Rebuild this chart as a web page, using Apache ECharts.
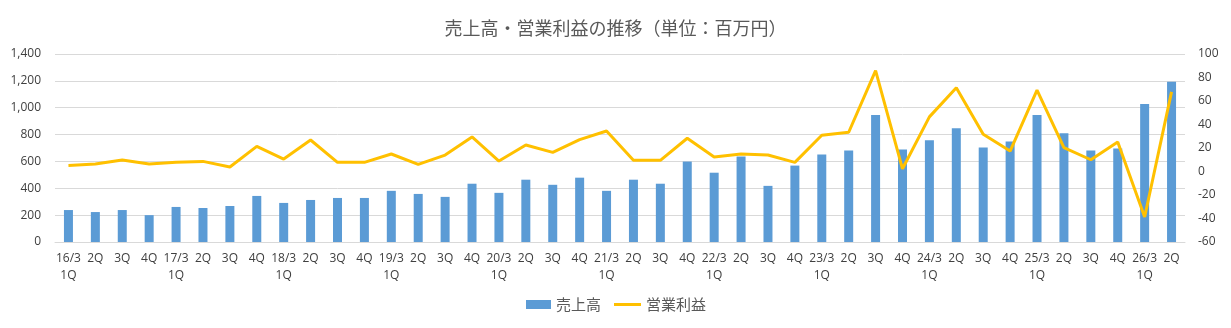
<!DOCTYPE html>
<html><head><meta charset="utf-8">
<script src="https://cdn.jsdelivr.net/npm/echarts@6/dist/echarts.min.js"></script>
<style>html,body{margin:0;padding:0;background:#fff}#c{width:1231px;height:328px}</style>
</head><body><div id="c"></div>
<script>
const categories = [
 '16/3\n1Q','2Q','3Q','4Q','17/3\n1Q','2Q','3Q','4Q','18/3\n1Q','2Q','3Q','4Q',
 '19/3\n1Q','2Q','3Q','4Q','20/3\n1Q','2Q','3Q','4Q','21/3\n1Q','2Q','3Q','4Q',
 '22/3\n1Q','2Q','3Q','4Q','23/3\n1Q','2Q','3Q','4Q','24/3\n1Q','2Q','3Q','4Q',
 '25/3\n1Q','2Q','3Q','4Q','26/3\n1Q','2Q'];
const sales = [238,223,238,200,261,253,268,343,291,313,328,328,
 381,358,336,434,366,464,426,479,381,464,434,599,
 516,637,418,569,652,682,945,689,757,847,704,749,
 945,809,682,697,1027,1193];
const profit = [5.2,6.3,9.7,6.3,7.8,8.6,3.8,21.4,10.6,26.8,7.8,7.8,
 14.9,6.0,14.0,29.4,8.9,22.6,16.3,27.1,34.5,9.5,9.5,28.3,
 12.3,14.9,14.0,7.8,30.8,33.4,85.8,2.3,46.5,71.2,31.7,17.4,
 69.3,20.3,10.0,25.1,-38.7,67.8];
const seriesNames = ['売上高','営業利益'];
const titleText = '売上高・営業利益の推移（単位：百万円）';

const font = "'Open Sans','Noto Sans CJK JP',sans-serif";
const jp = "'Noto Sans CJK JP',sans-serif";
const chart = echarts.init(document.getElementById('c'));
chart.setOption({
  animation:false,
  textStyle:{fontFamily:font},
  title:{text:titleText,left:'center',top:14,textStyle:{fontSize:18,fontWeight:'normal',color:'#595959',fontFamily:jp}},
  legend:[
    {left:521,top:292,itemWidth:25,itemHeight:9,itemGap:4,
      textStyle:{fontSize:15,color:'#595959',fontFamily:jp},
      data:[{name:seriesNames[0],icon:'rect'}]},
    {left:609,top:292,itemWidth:27,itemHeight:3,
      textStyle:{fontSize:15,color:'#595959',fontFamily:jp},
      data:[{name:seriesNames[1],icon:'rect'}]}
  ],
  grid:{left:55,right:46,top:54,bottom:86,containLabel:false},
  xAxis:{type:'category',data:categories,
    axisLine:{lineStyle:{color:'#d9d9d9'}},axisTick:{show:false},
    axisLabel:{interval:0,color:'#404040',fontSize:12,lineHeight:17,margin:8}},
  yAxis:[
    {type:'value',min:0,max:1400,interval:200,
      axisLabel:{color:'#404040',fontSize:12,margin:14,formatter:v=>v.toLocaleString('en-US')},
      splitLine:{lineStyle:{color:'#d9d9d9'}},axisLine:{show:false},axisTick:{show:false}},
    {type:'value',min:-60,max:100,interval:20,position:'right',
      axisLabel:{color:'#404040',fontSize:12,margin:13,align:'left'},
      splitLine:{show:false},axisLine:{show:false},axisTick:{show:false}}
  ],
  series:[
    {name:seriesNames[0],type:'bar',data:sales,barWidth:9,itemStyle:{color:'#5B9BD5'}},
    {name:seriesNames[1],type:'line',yAxisIndex:1,data:profit,symbol:'none',
      lineStyle:{color:'#FFC000',width:3},itemStyle:{color:'#FFC000'}}
  ]
});
</script></body></html>
